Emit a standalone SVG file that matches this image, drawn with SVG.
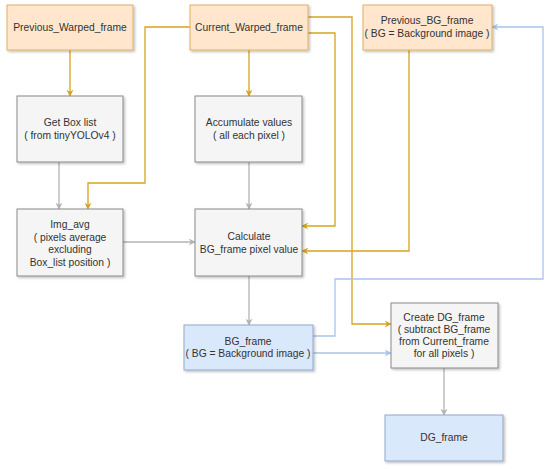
<svg xmlns="http://www.w3.org/2000/svg" width="550" height="469" viewBox="0 0 550 469">
<defs>
<filter id="sh" x="-10%" y="-10%" width="130%" height="130%"><feDropShadow dx="1.5" dy="1.5" stdDeviation="0.8" flood-color="#000" flood-opacity="0.25"/></filter>
<marker id="ao" viewBox="0 0 10 10" refX="9" refY="5" markerWidth="7" markerHeight="7" orient="auto" markerUnits="userSpaceOnUse"><path d="M0,0 L10,5 L0,10 L3,5 Z" fill="#d6a41e"/></marker>
<marker id="ag" viewBox="0 0 10 10" refX="9" refY="5" markerWidth="7" markerHeight="7" orient="auto" markerUnits="userSpaceOnUse"><path d="M0,0 L10,5 L0,10 L3,5 Z" fill="#b3b3b3"/></marker>
<marker id="ab" viewBox="0 0 10 10" refX="9" refY="5" markerWidth="7" markerHeight="7" orient="auto" markerUnits="userSpaceOnUse"><path d="M0,0 L10,5 L0,10 L3,5 Z" fill="#a9c4eb"/></marker>
</defs>
<style>
text{font-family:"Liberation Sans",Arial,sans-serif;font-size:10.3px;fill:#333;text-anchor:middle}
.o{fill:#ffe6cc;stroke:#e0b060;stroke-width:1;filter:url(#sh)}
.g{fill:#f5f5f5;stroke:#8a8a8a;stroke-width:1;filter:url(#sh)}
.b{fill:#dae8fc;stroke:#8fa8d0;stroke-width:1;filter:url(#sh)}
.co{fill:none;stroke:#d6a41e;stroke-width:1.3;marker-end:url(#ao)}
.cg{fill:none;stroke:#b3b3b3;stroke-width:1.3;marker-end:url(#ag)}
.cb{fill:none;stroke:#a9c4eb;stroke-width:1.3;marker-end:url(#ab)}
</style>
<rect width="550" height="469" fill="#fff"/>
<g id="connectors">
<path class="co" d="M70,50 V96"/>
<path class="co" d="M249,50 V96"/>
<path class="co" d="M190,27 H145 V183 H88 V209"/>
<path class="co" d="M308,17 H352 V324 H391"/>
<path class="co" d="M308,33 H335 V226 H302"/>
<path class="co" d="M409,50 V251 H302"/>
<path class="cb" d="M313,336 H335 V279 H543 V27 H492"/>
<path class="cb" d="M313,353 H391"/>
<path class="cg" d="M59,162 V209"/>
<path class="cg" d="M249,162 V209"/>
<path class="cg" d="M123,242 H195"/>
<path class="cg" d="M249,276 V325"/>
<path class="cg" d="M444,368 V415"/>
</g>
<g id="previous_warped_frame"><rect class="o" x="7" y="5" width="126" height="45"/><text x="70" y="31">Previous_Warped_frame</text></g>
<g id="current_warped_frame"><rect class="o" x="190" y="5" width="118" height="45"/><text x="249" y="31">Current_Warped_frame</text></g>
<g id="previous_bg_frame"><rect class="o" x="363" y="5" width="129" height="45"/><text x="427" y="24">Previous_BG_frame</text><text x="427" y="37">( BG = Background image )</text></g>
<g id="get_box_list"><rect class="g" x="17" y="96" width="106" height="66"/><text x="70" y="126">Get Box list</text><text x="70" y="139">( from tinyYOLOv4 )</text></g>
<g id="accumulate"><rect class="g" x="195" y="96" width="107" height="66"/><text x="249" y="126">Accumulate values</text><text x="249" y="139">( all each pixel )</text></g>
<g id="img_avg"><rect class="g" x="17" y="209" width="106" height="67"/><text x="70" y="228">Img_avg</text><text x="70" y="240.5">( pixels average</text><text x="70" y="253">excluding</text><text x="70" y="265.5">Box_list position )</text></g>
<g id="calculate"><rect class="g" x="195" y="209" width="107" height="67"/><text x="249" y="240">Calculate</text><text x="249" y="253">BG_frame pixel value</text></g>
<g id="bg_frame"><rect class="b" x="184" y="325" width="129" height="45"/><text x="248" y="345">BG_frame</text><text x="248" y="357">( BG = Background image )</text></g>
<g id="create_dg_frame"><rect class="g" x="391" y="303" width="107" height="65"/><text x="444" y="321">Create DG_frame</text><text x="444" y="333">( subtract BG_frame</text><text x="444" y="345">from Current_frame</text><text x="444" y="357">for all pixels )</text></g>
<g id="dg_frame"><rect class="b" x="385" y="415" width="118" height="46"/><text x="444" y="441">DG_frame</text></g>
</svg>
